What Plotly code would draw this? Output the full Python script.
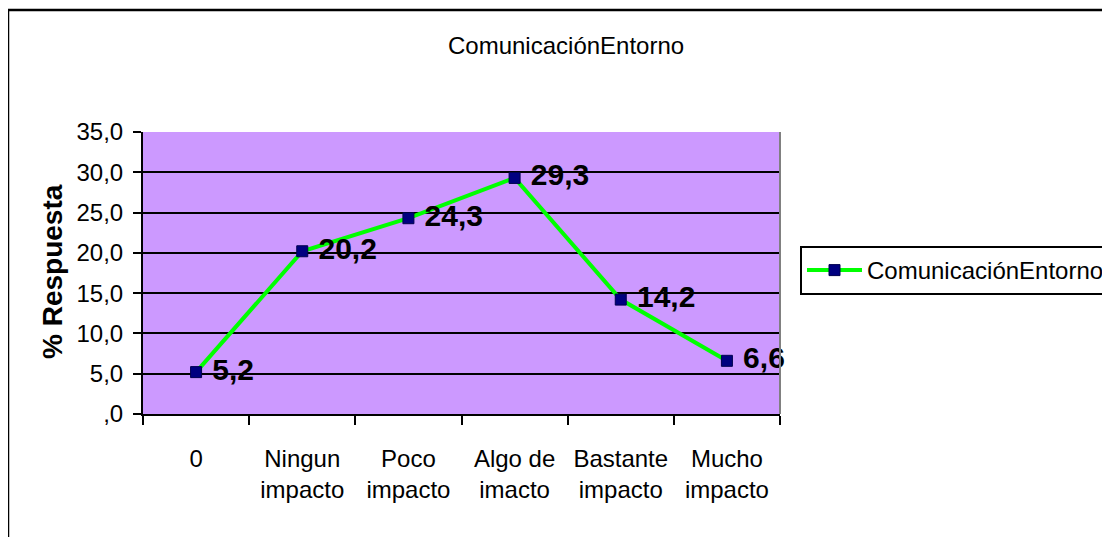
import plotly.graph_objects as go

categories = ["0", "Ningun<br>impacto", "Poco<br>impacto", "Algo de<br>imacto",
              "Bastante<br>impacto", "Mucho<br>impacto"]
values = [5.2, 20.2, 24.3, 29.3, 14.2, 6.6]
series_name = "ComunicaciónEntorno"
y_tick_vals = [0, 5, 10, 15, 20, 25, 30, 35]
y_tick_text = [",0", "5,0", "10,0", "15,0", "20,0", "25,0", "30,0", "35,0"]

W, H = 1110, 537
O = 8  # page body margin offset
L, R, T, B = 143 - O, 780 - O, 132 - O, 414 - O
pw, ph = R - L, B - T

def px(x):
    return (x - O - L) / pw

def py(y):
    return (B - (y - O)) / ph

FONT = "Liberation Sans, Arial, sans-serif"

fig = go.Figure()
fig.add_trace(go.Scatter(
    x=categories, y=values, mode="lines+markers+text", name=series_name,
    line=dict(color="#00FF00", width=4),
    marker=dict(symbol="square", size=11, color="#000080",
                line=dict(color="#000050", width=1)),
    text=[" " + f"{v:.1f}".replace(".", ",") for v in values],
    textposition="middle right",
    textfont=dict(family=FONT, size=30, color="black", weight="bold"),
    cliponaxis=False,
))

fig.update_layout(
    width=W, height=H,
    margin=dict(l=L, r=W - R, t=T, b=H - B, pad=0, autoexpand=False),
    paper_bgcolor="white", plot_bgcolor="#CC99FF",
    font=dict(family=FONT, size=24, color="black"),
    showlegend=True,
    legend=dict(x=px(800), y=py(270.5), xanchor="left", yanchor="middle",
                bgcolor="white", bordercolor="black", borderwidth=2,
                itemwidth=55,
                font=dict(family=FONT, size=24, color="black")),
    xaxis=dict(type="category", range=[-0.5, 5.5], tickson="boundaries",
               ticks="outside", ticklen=9, tickwidth=2, tickcolor="black",
               showline=True, linecolor="black", linewidth=2, showgrid=False,
               ticklabelstandoff=22, tickfont=dict(size=24)),
    yaxis=dict(range=[0, 35], tickmode="array", tickvals=y_tick_vals,
               ticktext=y_tick_text, ticks="outside", ticklen=8, tickwidth=2,
               tickcolor="black", showline=True, linecolor="black", linewidth=2,
               showgrid=True, gridcolor="black", gridwidth=2, zeroline=False,
               ticklabelstandoff=5, tickfont=dict(size=24)),
    annotations=[
        dict(text=series_name, xref="paper", yref="paper", x=px(566), y=py(46),
             xanchor="center", yanchor="middle", showarrow=False,
             font=dict(family=FONT, size=24, color="black")),
        dict(text="<b>% Respuesta</b>", xref="paper", yref="paper", x=px(52),
             y=py(272), xanchor="center", yanchor="middle", textangle=-90,
             showarrow=False, font=dict(family=FONT, size=28, color="black")),
    ],
    shapes=[
        dict(type="line", xref="paper", yref="paper", x0=1, x1=1, y0=0, y1=1,
             line=dict(color="#808080", width=2)),
        dict(type="rect", xref="paper", yref="paper", x0=px(8), x1=px(1125),
             y0=py(10), y1=py(560), line=dict(color="black", width=2.5),
             fillcolor="rgba(0,0,0,0)", layer="below"),
    ],
)

fig.write_html("out.html")
